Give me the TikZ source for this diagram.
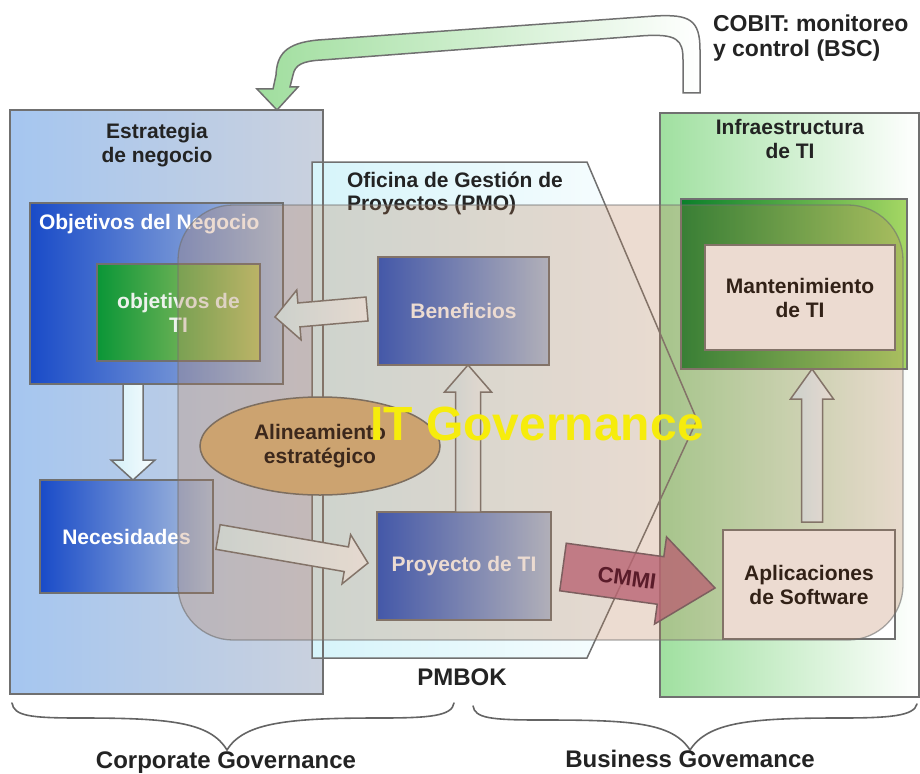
\documentclass[tikz,border=0pt]{standalone}
\usepackage{fontspec}
\setmainfont{Liberation Sans}
\usetikzlibrary{calc,shapes.geometric}

\definecolor{edgegray}{RGB}{112,112,112}
\definecolor{ink}{RGB}{35,35,35}
\definecolor{stratL}{RGB}{165,198,240}
\definecolor{stratR}{RGB}{202,209,222}
\definecolor{infraL}{RGB}{160,224,160}
\definecolor{pmoL}{RGB}{214,244,250}
\definecolor{blueL}{RGB}{25,75,200}
\definecolor{blueR}{RGB}{175,195,222}
\definecolor{greenL}{RGB}{10,150,55}
\definecolor{greenR}{RGB}{190,200,110}
\definecolor{frameL}{RGB}{10,128,42}
\definecolor{frameR}{RGB}{165,215,100}
\definecolor{cobitL}{RGB}{160,222,158}
\definecolor{arrowL}{RGB}{212,240,248}
\definecolor{arrowR}{RGB}{246,252,253}
\definecolor{govTan}{RGB}{185,125,85}
\definecolor{alignFill}{RGB}{204,163,112}
\definecolor{alignEdge}{RGB}{125,110,95}
\definecolor{alignInk}{RGB}{60,40,28}
\definecolor{cmmiFill}{RGB}{185,100,115}
\definecolor{cmmiEdge}{RGB}{125,95,95}
\definecolor{cmmiInk}{RGB}{90,28,42}
\definecolor{govYellow}{RGB}{246,236,12}
\definecolor{braceGray}{RGB}{100,100,100}
\definecolor{softWhite}{RGB}{236,242,236}

% block arrow: [style]{tail}{tip}{half shaft width}{half head width}{head length}
\newcommand{\blockarrow}[6][]{%
  \path ($(#3)!#6!(#2)$) coordinate (ba-h);
  \draw[blockarr,#1] ($(#2)!#4!90:(#3)$) -- ($(ba-h)!#4!90:(#3)$)
     -- ($(ba-h)!#5!90:(#3)$) -- (#3) -- ($(ba-h)!#5!-90:(#3)$)
     -- ($(ba-h)!#4!-90:(#3)$) -- ($(#2)!#4!-90:(#3)$) -- cycle;
}

\begin{document}
\begin{tikzpicture}[x=1pt,y=-1pt,
  edgeline/.style={draw=edgegray, line width=1.5pt},
  panel/.style={edgeline, rectangle, inner sep=0pt, outer sep=0pt},
  txt/.style={inner sep=0pt, outer sep=0pt, align=center,
    font=\bfseries\fontsize{21}{24}\selectfont},
  lbl/.style={txt, text=ink},
  bluebox/.style={panel, txt, left color=blueL, right color=blueR, text=white},
  greenbox/.style={panel, txt, left color=greenL, right color=greenR, text=softWhite},
  whitebox/.style={panel, txt, fill=white, text=black},
  blockarr/.style={draw=edgegray, line width=1.5pt},
  litearrow/.style={left color=arrowL, right color=arrowR},
  govzone/.style={fill=govTan, fill opacity=0.27, draw=edgegray, draw opacity=0.6,
    line width=1.3pt, rounded corners=55pt},
  bracepath/.style={draw=braceGray, line width=1.6pt, line cap=round},
  bottomlbl/.style={lbl, font=\bfseries\fontsize{24}{26}\selectfont}]

\useasboundingbox (0,0) rectangle (920,773);

% panels
\node[panel, left color=stratL, right color=stratR,
      minimum width=313pt, minimum height=584pt] (strat) at (166.5,402) {};
\shade[left color=pmoL, right color=white]
  (312,162) -- (587,162) -- (697,420) -- (587,658) -- (312,658) -- cycle;
\draw[edgeline] (strat.south west) rectangle (strat.north east);
\node[panel, left color=infraL, right color=white,
      minimum width=259pt, minimum height=584pt] (infra) at (789.5,405) {};
\draw[edgeline]
  (312,162) coordinate (pmo-nw) -- (587,162) -- (697,420) coordinate (pmo-e)
  -- (587,658) -- (312,658) -- cycle;

% COBIT feedback arrow
\draw[edgeline, left color=cobitL, right color=white]
  (700,93) coordinate (cobit-tail) -- (700,50) .. controls (700,20) and (690,14) .. (655,16)
  -- (318,40) .. controls (285,43) and (277,55) .. (276,75) -- (273,89) -- (257,89)
  -- ($(strat.north)+(110.5,0)$) -- (298,87) -- (290,87) -- (293,75)
  .. controls (295,65) and (302,61) .. (322,60) -- (640,36)
  .. controls (678,33) and (683,40) .. (683,60) -- (683,93) -- cycle;

% titles
\node[lbl, anchor=north] (strat-t) at (157,123) {Estrategia\\de negocio};
\node[lbl, anchor=north west, align=left, font=\bfseries\fontsize{21}{23}\selectfont]
  (pmo-t) at (347,172) {Oficina de Gestión de\\Proyectos (PMO)};
\node[lbl, anchor=north] (infra-t) at (790,119) {Infraestructura\\de TI};
\node[lbl, anchor=north west, align=left, font=\bfseries\fontsize{23}{25}\selectfont]
  (cobit-t) at (713,15) {COBIT: monitoreo\\y control (BSC)};

% boxes
\node[bluebox, minimum width=253pt, minimum height=181pt] (objneg) at (156.5,293.5) {};
\node[txt, text=white, anchor=base west] (objneg-t) at (39,229) {Objetivos del Negocio};
\node[greenbox, minimum width=163pt, minimum height=97pt] (objti) at (178.5,312.5) {objetivos de\\TI};
\node[bluebox, minimum width=173pt, minimum height=113pt] (nec) at (126.5,536.5) {Necesidades};
\node[bluebox, minimum width=171pt, minimum height=108pt] (ben) at (463.5,311) {Beneficios};
\node[bluebox, minimum width=174pt, minimum height=108pt] (proy) at (464,566) {Proyecto de TI};
\node[panel, left color=frameL, right color=frameR,
      minimum width=226pt, minimum height=170pt] (gframe) at (794,284) {};
\node[whitebox, minimum width=190pt, minimum height=105pt] (mant) at (800,297.5) {Mantenimiento\\de TI};
\node[whitebox, minimum width=172pt, minimum height=109pt] (apl) at (809,584.5) {Aplicaciones\\de Software};

% flow arrows
\coordinate (dn-a) at ($(objneg.south)+(-23.5,0)$);
\coordinate (dn-b) at ($(nec.north)+(6.5,0)$);
\blockarrow[litearrow]{dn-a}{dn-b}{10pt}{22pt}{20pt}

\coordinate (lf-a) at ($(ben.west)+(-11,-2)$);
\coordinate (lf-b) at ($(objti.east)+(15,4.5)$);
\blockarrow[litearrow]{lf-a}{lf-b}{12pt}{25pt}{24pt}

\coordinate (rt-a) at ($(nec.east)+(5,0.5)$);
\coordinate (rt-b) at ($(proy.west)+(-9,-3)$);
\blockarrow[litearrow]{rt-a}{rt-b}{12.5pt}{25pt}{22pt}

\coordinate (up-a) at ($(proy.north)+(4,0)$);
\coordinate (up-b) at ($(ben.south)+(4.5,0)$);
\blockarrow[litearrow]{up-a}{up-b}{12.5pt}{23.5pt}{27pt}

\coordinate (ur-a) at ($(apl.north)+(3,-8)$);
\coordinate (ur-b) at ($(gframe.south)+(18,0)$);
\blockarrow[litearrow]{ur-a}{ur-b}{10.5pt}{21.5pt}{30pt}

% IT governance zone
\draw[govzone] (178,205) rectangle (903,640);

% strategic alignment
\node[ellipse, draw=alignEdge, line width=1.5pt, fill=alignFill, inner sep=0pt,
      minimum width=240pt, minimum height=98pt, txt, text=alignInk]
  (alin) at (320,446) {Alineamiento\\estratégico};

% CMMI arrow, translucent so the PMO outline shows through
\coordinate (cm-a) at ($(proy.east)+(12,1)$);
\coordinate (cm-b) at ($(apl.west)+(-8,3.5)$);
\blockarrow[fill=cmmiFill, fill opacity=0.8, draw=cmmiEdge]{cm-a}{cm-b}{24pt}{44pt}{55pt}
\node[txt, rotate=-8, text=cmmiInk, font=\bfseries\fontsize{22}{24}\selectfont]
  (cmmi) at (627,578) {CMMI};

% headline
\node[inner sep=0pt, anchor=base, text=govYellow,
      font=\bfseries\fontsize{48}{50}\selectfont] (itgov) at (537,440) {IT Governance};

\node[bottomlbl, anchor=base] (pmbok) at (462,685) {PMBOK};

% braces
\draw[bracepath] (12,703) .. controls (14,716) and (30,718) .. (80,718)
  .. controls (170,718) and (210,722) .. (227,750) coordinate (cg-tip)
  .. controls (244,722) and (290,718) .. (380,718)
  .. controls (430,718) and (452,716) .. (454,703);
\draw[bracepath] (473,706) .. controls (475,718) and (490,720) .. (540,720)
  .. controls (630,720) and (672,722) .. (690,750) coordinate (bg-tip)
  .. controls (708,722) and (750,718) .. (840,718)
  .. controls (890,718) and (914,716) .. (917,704);

\node[bottomlbl, anchor=base] (corp) at (226,768) {Corporate Governance};
\node[bottomlbl, anchor=base] (bus) at (690,767) {Business Govemance};

\end{tikzpicture}
\end{document}
